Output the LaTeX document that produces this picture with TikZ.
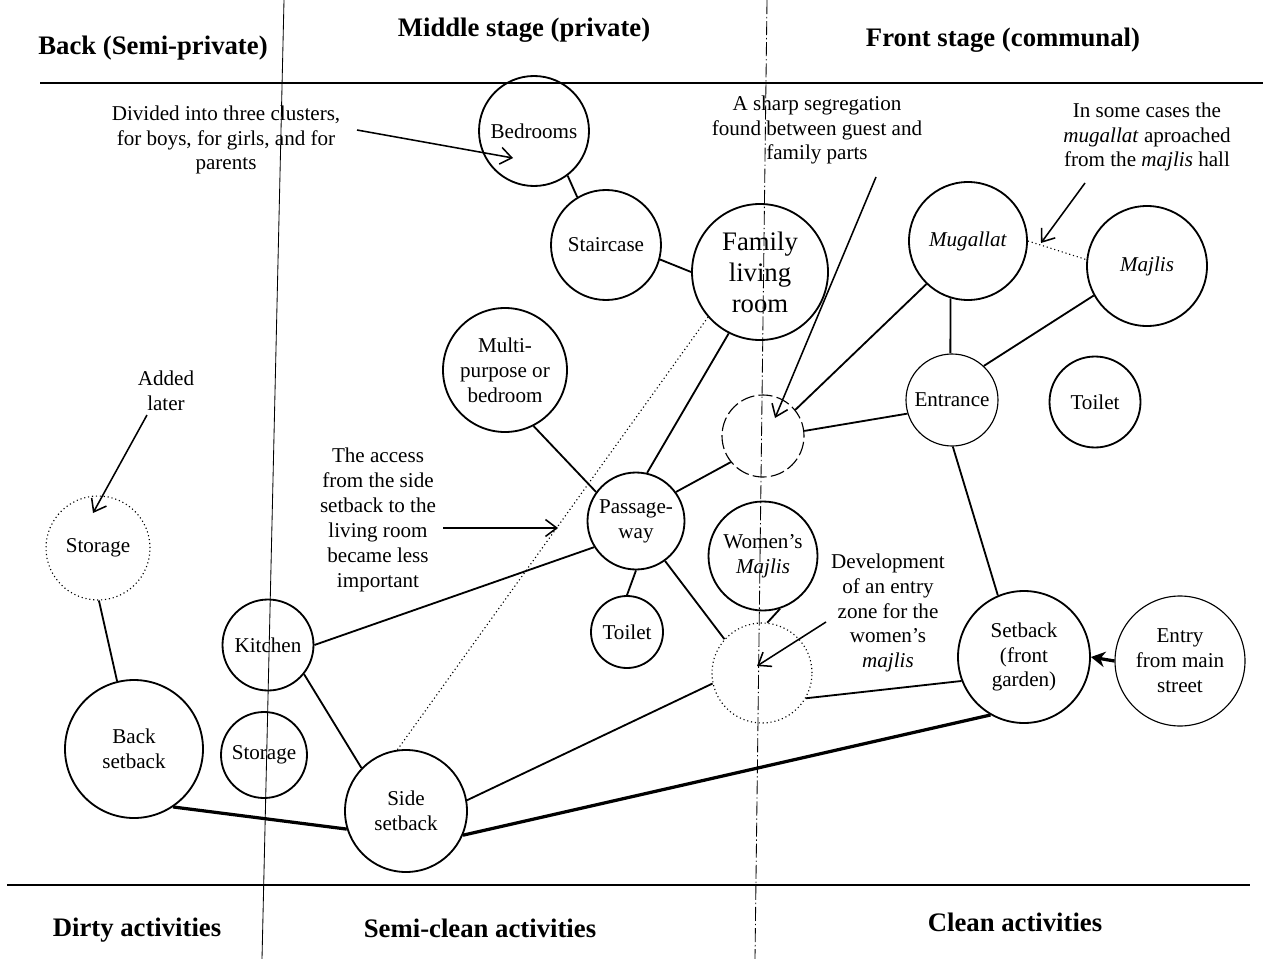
\documentclass[tikz,border=0pt]{standalone}
\usepackage{fontspec}
\setmainfont{Liberation Serif}
\usetikzlibrary{arrows.meta}

\tikzset{
  room/.style={circle, draw, line width=1.3pt, inner sep=0pt, align=center},
  dia/.style={minimum size=#1*0.025cm},
  faint/.style={line width=0.8pt},
  link/.style={line width=1.3pt},
  heavy/.style={line width=2.3pt},
  remark/.style={align=center, inner sep=0pt},
  note/.style={line width=1.1pt, -{Straight Barb[length=8pt,width=12pt]}},
  zone/.style={inner sep=0pt, font=\fontsize{19}{22}\selectfont\bfseries},
}

\begin{document}
\begin{tikzpicture}[x=0.025cm, y=-0.025cm, font=\fontsize{15}{17.7}\selectfont]
\useasboundingbox (0,0) rectangle (1271,959);
%\draw[gray,very thin] (0,0) grid[step=50] (1271,959); %background grid

% stages and activity bands
\draw[line width=1.2pt] (40,83) -- (1263,83);
\draw[line width=1.2pt] (7,885) -- (1250,885);
\draw[line width=0.6pt] (284,0) -- (262,959);
\draw[line width=0.6pt, dash pattern=on 10pt off 2pt on 1pt off 2pt] (767,0) -- (755,959);
\node[zone] (back stage) at (153,48) {Back (Semi-private)};
\node[zone] (middle stage) at (524,30) {Middle stage (private)};
\node[zone] (front stage) at (1003,40) {Front stage (communal)};
\node[zone] (dirty) at (137,930) {Dirty activities};
\node[zone] (semiclean) at (480,928) {Semi-clean activities};
\node[zone] (clean) at (1015,922) {Clean activities};

% spaces
\node[room, dia=110] (bed) at (534,131) {Bedrooms};
\node[room, dia=110] (stair) at (606,245) {Staircase};
\node[room, dia=136, font=\fontsize{19}{22}\selectfont] (family) at (760,272) {Family\\living\\room};
\node[room, dia=124] (multi) at (505,370) {Multi-\\purpose or\\bedroom};
\node[room, dia=97] (pass) at (636,521) {Passage-\\way};
\node[room, dia=72] (wc1) at (627,632) {Toilet};
\node[room, dia=109] (women) at (763,556) {Women’s\\\textit{Majlis}};
\node[room, faint, dash pattern=on 10pt off 3pt, dia=82] (split) at (763,436) {};
\node[room, faint, dotted, dia=100] (womenentry) at (762,673) {};
\node[room, dia=118] (mug) at (968,241) {\textit{Mugallat}};
\node[room, dia=120] (majlis) at (1147,266) {\textit{Majlis}};
\node[room, faint, dia=92] (entrance) at (952,400) {Entrance};
\node[room, dia=91] (wc2) at (1095,402) {Toilet};
\node[room, dia=132] (setback) at (1024,657) {Setback\\(front\\garden)};
\node[room, faint, dia=130] (street) at (1180,661) {Entry\\from main\\street};
\node[room, faint, dotted, dia=104] (store2) at (98,548) {Storage};
\node[room, dia=138] (back) at (134,749) {Back\\setback};
\node[room, dia=86] (store) at (264,755) {Storage};
\node[room, dia=91] (kitchen) at (268,645) {Kitchen};
\node[room, dia=122] (side) at (406,811) {Side\\setback};

% links
\draw[link] (bed.-53) -- (stair.121);
\draw[link] (stair.-15) -- (family.180);
\draw[link] (multi.-63) -- (pass.144);
\draw[link] (family.243) -- (pass.77);
\draw[link] (pass.36) -- (split.219);
\draw[link] (pass.270) -- (wc1.90);
\draw[link] (pass.-54) -- (womenentry.138);
\draw[link] (women.-72) -- (womenentry.84);
\draw[link] (kitchen.0) -- (pass.212);
\draw[link] (kitchen.-39) -- (side.136);
\draw[link] (store2.-89) -- (back.104);
\draw[heavy] (back.-56) -- (side.197);
\draw[link] (side.10) -- (womenentry.192);
\draw[heavy] (side.-23) -- (setback.240);
\draw[link] (split.7) -- (entrance.197);
\draw[link] (mug.226) -- (split.39);
\draw[link] (mug.253) -- (entrance.92);
\draw[link] (majlis.209) -- (entrance.47);
\draw[faint, dotted] (mug.0) -- (majlis.174);
\draw[link] (entrance.-89) -- (setback.113);
\draw[link] (womenentry.-30) -- (setback.201);
\draw[faint, dotted] (side.98) -- (family.221);
\draw[heavy, -{Stealth[length=10pt,width=11pt]}] (street.west) -- (setback.east);

% remarks
\node[remark] (clusters) at (226,140) {Divided into three clusters,\\for boys, for girls, and for\\parents};
\node[remark] (added) at (166,391) {Added\\later};
\node[remark] (access) at (378,520) {The access\\from the side\\setback to the\\living room\\became less\\important};
\node[remark] (sharp) at (817,130) {A sharp segregation\\found between guest and\\family parts};
\node[remark] (approach) at (1147,137) {In some cases the\\\textit{mugallat} aproached\\from the \textit{majlis} hall};
\node[remark] (devel) at (888,613) {Development\\of an entry\\zone for the\\women’s\\\textit{majlis}};

\coordinate (clusters from) at (357,130);
\coordinate (clusters to) at (513,158);
\coordinate (added from) at (147,415);
\coordinate (added to) at (93,513);
\coordinate (access from) at (443,528);
\coordinate (access to) at (558,528);
\coordinate (sharp from) at (876,177);
\coordinate (sharp to) at (775,418);
\coordinate (approach from) at (1085,183);
\coordinate (approach to) at (1041,243);
\coordinate (devel from) at (826,622);
\coordinate (devel to) at (757,666);
\draw[note] (clusters from) -- (clusters to);
\draw[note] (added from) -- (added to);
\draw[note] (access from) -- (access to);
\draw[note] (sharp from) -- (sharp to);
\draw[note] (approach from) -- (approach to);
\draw[note] (devel from) -- (devel to);
\end{tikzpicture}
\end{document}
